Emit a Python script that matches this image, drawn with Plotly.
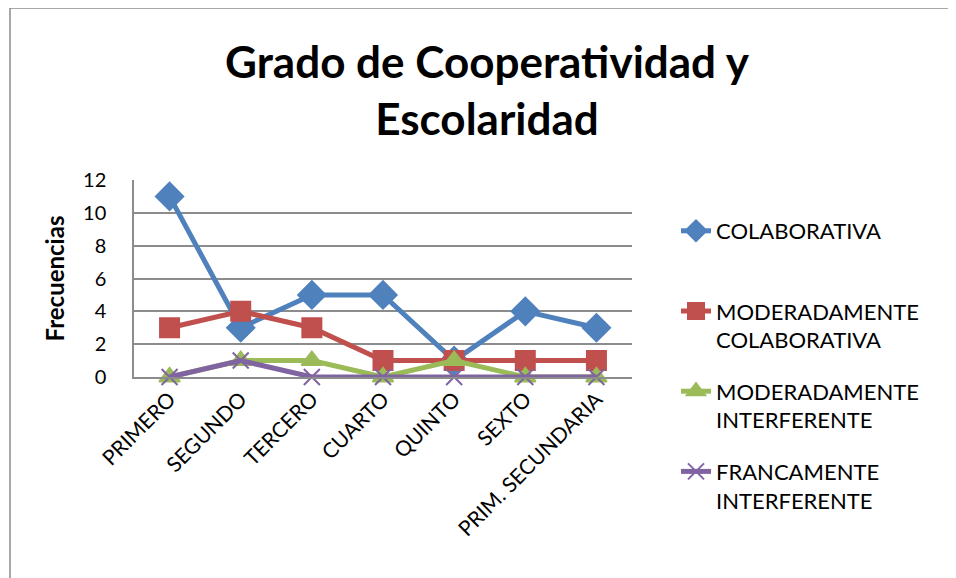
import plotly.graph_objects as go

categorias = ['PRIMERO', 'SEGUNDO', 'TERCERO', 'CUARTO', 'QUINTO', 'SEXTO', 'PRIM. SECUNDARIA']

colaborativa = [11, 3, 5, 5, 1, 4, 3]
mod_colaborativa = [3, 4, 3, 1, 1, 1, 1]
mod_interferente = [0, 1, 1, 0, 1, 0, 0]
franc_interferente = [0, 1, 0, 0, 0, 0, 0]

series = [
    ('COLABORATIVA<br> ', colaborativa, '#4F81BD', 'diamond', 21),
    ('MODERADAMENTE<br>COLABORATIVA', mod_colaborativa, '#C0504D', 'square', 19),
    ('MODERADAMENTE<br>INTERFERENTE', mod_interferente, '#9BBB59', 'triangle-up', 18),
    ('FRANCAMENTE<br>INTERFERENTE', franc_interferente, '#8064A2', 'x-thin', 16),
]

fig = go.Figure()
for i, (nombre, valores, color, simbolo, tam) in enumerate(series):
    fig.add_trace(go.Scatter(
        x=categorias,
        y=valores,
        name=nombre,
        mode='lines+markers',
        legendgroup=str(i),
        cliponaxis=False,
        line=dict(color=color, width=5),
        marker=dict(symbol=simbolo, size=tam, color=color,
                    line=dict(color=color, width=2)),
    ))

# la pagina tiene 8px de margen en el body
W, H = 948, 570
L, R, T, B = 126, 324, 172, 201
pw, ph = W - L - R, H - T - B

fig.update_layout(
    width=W, height=H,
    margin=dict(l=L, r=R, t=T, b=B),
    paper_bgcolor='white',
    plot_bgcolor='white',
    font=dict(family='Lato', size=20, color='black'),
    title=dict(
        text='<b>Grado de Cooperatividad y<br>Escolaridad</b>',
        font=dict(family='Lato', size=44, color='black'),
        x=479 / W, xanchor='center', xref='container',
        y=1 - 70 / H, yanchor='top', yref='container',
    ),
    legend=dict(
        x=1 + (668 - L - pw) / pw, xanchor='left',
        y=(H - B - 202) / ph, yanchor='top',
        valign='top',
        tracegroupgap=20,
        maxheight=400,
        font=dict(size=22),
        bgcolor='rgba(0,0,0,0)',
    ),
    showlegend=True,
    shapes=[dict(
        type='rect', xref='paper', yref='paper',
        x0=(2 - L) / pw, x1=(W + 20 - L) / pw,
        y0=-(B + 20) / ph, y1=1 + T / ph,
        line=dict(color='#8c8c8c', width=1.5), layer='below',
    )],
)

fig.update_xaxes(
    type='category',
    range=[-0.5, 6.5],
    tickangle=-45,
    showgrid=False,
    showline=True, linecolor='#8c8c8c', linewidth=1.5,
    tickfont=dict(size=21),
)

fig.update_yaxes(
    range=[0, 12],
    dtick=2,
    showgrid=True, gridcolor='#8c8c8c', gridwidth=1.5,
    showline=True, linecolor='#8c8c8c', linewidth=1.5,
    zeroline=False,
    ticklabelstandoff=22,
    tickfont=dict(size=20),
    title=dict(text='<b>Frecuencias</b>', font=dict(size=24), standoff=12),
)

fig.write_html('out.html')
